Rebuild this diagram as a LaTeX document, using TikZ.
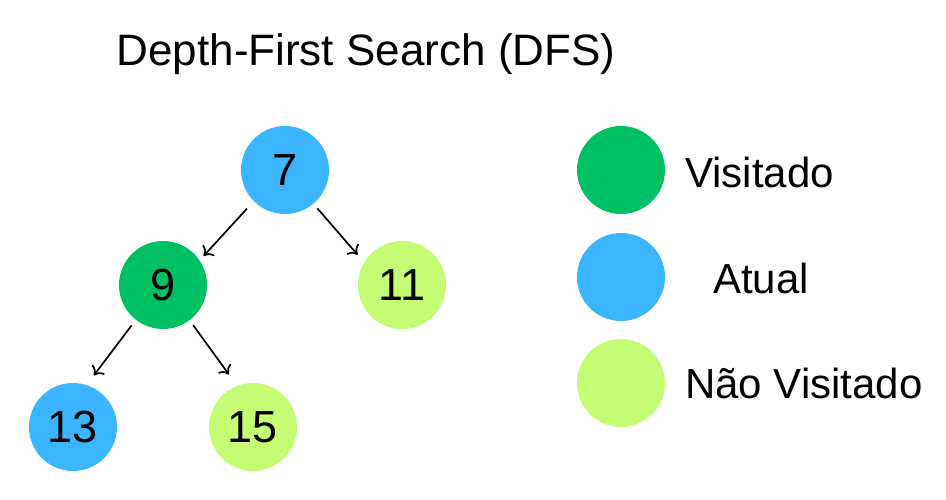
\documentclass[tikz,border=0pt]{standalone}
\usepackage{fontspec}
\setmainfont{Liberation Sans}
\usetikzlibrary{arrows.meta}
\usetikzlibrary{positioning}
\definecolor{verde}{RGB}{0,192,100}
\definecolor{azul}{RGB}{59,181,255}
\definecolor{verdeclaro}{RGB}{196,253,115}
\tikzstyle{legenda}=[inner sep=0pt, font=\fontsize{42}{48}\selectfont]
\begin{document}
\begin{tikzpicture}[x=1pt, y=-1pt,
visitadonode/.style={circle, fill=verde, minimum size=88pt, inner sep=0pt, font=\fontsize{45}{50}\selectfont},
atualnode/.style={circle, fill=azul, minimum size=88pt, inner sep=0pt, font=\fontsize{45}{50}\selectfont},
naovisitadonode/.style={circle, fill=verdeclaro, minimum size=88pt, inner sep=0pt, font=\fontsize{45}{50}\selectfont},
seta/.style={-{To[length=8pt,width=16pt]}, line width=1.7pt},
]
\useasboundingbox (0,0) rectangle (946,499);

%Title
\node[anchor=base, font=\fontsize{44}{50}\selectfont] (titulo) at (366,65) {Depth-First Search (DFS)};

%Nodes
\node[atualnode]        (n7)   at (285,170) {7};
\node[visitadonode]     (n9)   at (163,285) {9};
\node[naovisitadonode]  (n11)  at (402,285) {11};
\node[atualnode]        (n13)  at (73,427)  {13};
\node[naovisitadonode]  (n15)  at (253,427) {15};

%Legend
\node[visitadonode]     (leg_visitado)    at (621,170) {};
\node[atualnode]        (leg_atual)       at (621,277) {};
\node[naovisitadonode]  (leg_naovisitado) at (621,383) {};
\node[legenda, anchor=base west] (txt_visitado)    at (685,187) {Visitado};
\node[legenda, anchor=base]      (txt_atual)       at (761,293) {Atual};
\node[legenda, anchor=base west] (txt_naovisitado) at (685,398) {Não Visitado};

%Lines
\draw[seta, shorten <=10pt, shorten >=6pt]  (n7.225) -- (n9.34);
\draw[seta, shorten <=6pt,  shorten >=10pt] (n7.310) -- (n11.149);
\draw[seta, shorten <=7pt,  shorten >=12pt] (n9.232) -- (n13.72);
\draw[seta, shorten <=6pt,  shorten >=14pt] (n9.307) -- (n15.111);

\end{tikzpicture}
\end{document}
